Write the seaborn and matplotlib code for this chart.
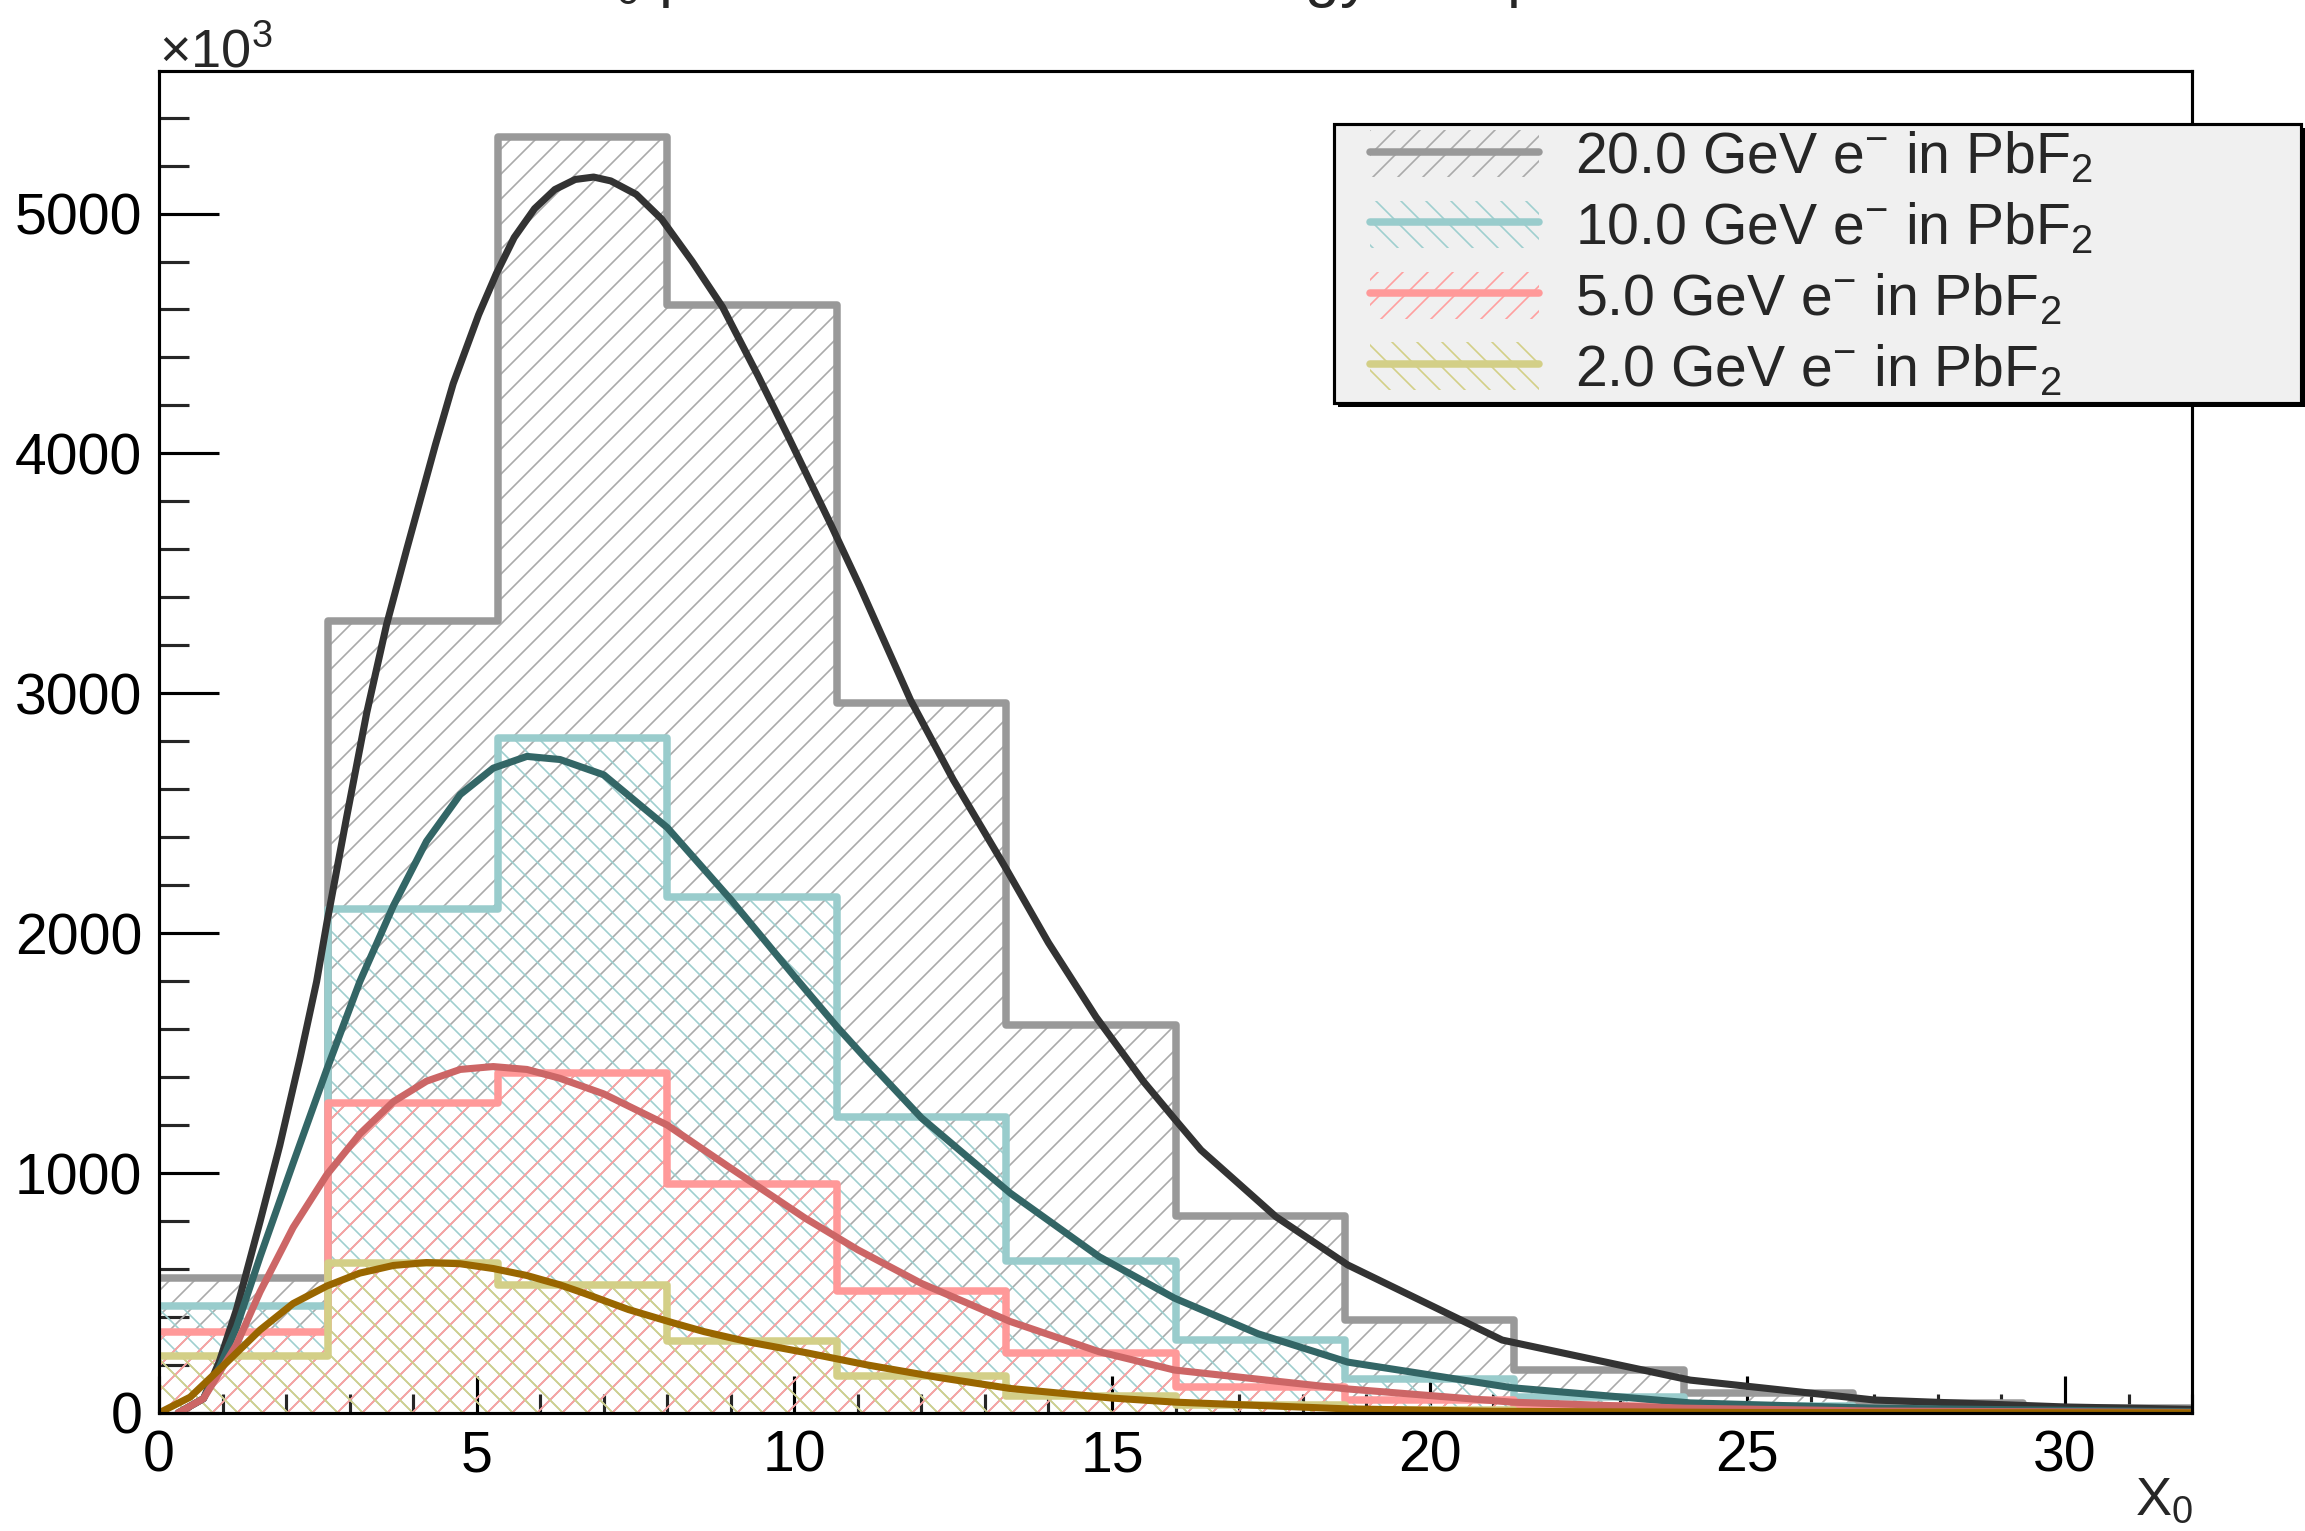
#X0 shower profile histograms with fitted curves, ROOT style look
import numpy as np
import pandas as pd
import matplotlib
matplotlib.use('Agg')
import matplotlib.pyplot as plt
import seaborn as sb
from matplotlib.patches import Patch, Rectangle
from matplotlib.lines import Line2D
from matplotlib.legend_handler import HandlerTuple
from matplotlib.ticker import MultipleLocator


#bin edges (in X0)
bin_edges = [0, 2.667, 5.333, 8, 10.667, 13.333, 16, 18.667, 21.333, 24, 26.667, 29.333, 32]

#histogram contents, in units of 10^3
h_20gev = [562, 3300, 5320, 4620, 2960, 1618, 820, 386, 180, 82, 42, 22]
h_10gev = [445, 2102, 2815, 2150, 1234, 634, 305, 140, 66, 30, 13, 6]
h_5gev = [337, 1291, 1418, 955, 508, 248, 110, 56, 28, 12, 5, 3]
h_2gev = [236, 626, 535, 302, 153, 70, 35, 12, 5, 2, 1, 0.5]

#fit curves
fit20_x = [0.3, 0.7, 0.95, 1.22, 1.59, 1.9, 2.22, 2.48, 2.64, 2.95, 3.27, 3.58, 3.9, 4.35, 4.63, 5.03, 5.31,
           5.59, 5.91, 6.23, 6.55, 6.84, 7.11, 7.51, 7.91, 8.39, 8.87, 9.43, 9.91, 10.55, 11.03, 11.83, 12.5,
           13.33, 14.0, 14.75, 15.5, 16.0, 16.4, 17.58, 18.71, 21.14, 24.1, 27.0, 30.0, 32.0]
fit20_y = [0, 60, 215, 432, 798, 1115, 1480, 1798, 2041, 2480, 2920, 3285, 3602, 4036, 4291, 4578, 4750,
           4900, 5020, 5100, 5142, 5152, 5136, 5080, 4977, 4801, 4610, 4323, 4067, 3717, 3446, 2971, 2640,
           2270, 1960, 1650, 1380, 1221, 1096, 818, 617, 304, 137, 54, 25, 15]

fit10_x = [0.3, 0.7, 0.95, 1.22, 1.59, 2.11, 2.64, 3.16, 3.69, 4.21, 4.74, 5.26, 5.79, 6.31, 7.0, 8.0, 9.0,
           10.0, 10.67, 11.15, 12.0, 13.4, 14.8, 15.98, 17.3, 18.71, 21.3, 24.1, 27.0, 32.0]
fit10_y = [0, 60, 190, 358, 651, 1041, 1432, 1798, 2115, 2383, 2578, 2688, 2737, 2724, 2660, 2440, 2140,
           1820, 1610, 1470, 1230, 916, 651, 479, 330, 212, 105, 42, 20, 5]

fit5_x = [0.3, 0.7, 1.22, 1.59, 2.11, 2.64, 3.16, 3.69, 4.21, 4.74, 5.26, 5.79, 6.31, 7.0, 8.0, 9.0, 10.17,
          11.0, 12.0, 13.4, 14.8, 15.98, 18.71, 21.3, 24.0, 27.0, 32.0]
fit5_y = [0, 60, 285, 505, 773, 993, 1163, 1298, 1383, 1432, 1444, 1432, 1395, 1330, 1200, 1020, 812,
          680, 540, 381, 255, 179, 100, 45, 20, 8, 2]

fit2_x = [0.0, 0.49, 1.07, 1.59, 2.11, 2.64, 3.16, 3.69, 4.21, 4.74, 5.26, 5.79, 6.31, 6.68, 7.39, 8.1, 8.58,
          9.3, 10.17, 11.15, 12.27, 13.4, 15.0, 16.0, 18.7, 21.0, 25.0, 32.0]
fit2_y = [0, 66, 212, 346, 456, 529, 583, 615, 627, 622, 602, 573, 534, 500, 431, 375, 339,
          295, 252, 200, 148, 102, 62, 45, 17, 7, 2, 0.5]

labels = [r'20.0 GeV e$^{-}$ in PbF$_{2}$', r'10.0 GeV e$^{-}$ in PbF$_{2}$',
          r'5.0 GeV e$^{-}$ in PbF$_{2}$', r'2.0 GeV e$^{-}$ in PbF$_{2}$']


#style
sb.set_theme(style='white')
plt.rcParams['font.family'] = ['Liberation Sans', 'DejaVu Sans']
plt.rcParams['mathtext.fontset'] = 'custom'
plt.rcParams['mathtext.rm'] = 'Liberation Sans'
plt.rcParams['mathtext.it'] = 'Liberation Sans:italic'
plt.rcParams['mathtext.bf'] = 'Liberation Sans:bold'
plt.rcParams['mathtext.default'] = 'regular'
plt.rcParams['hatch.linewidth'] = 0.8
plt.rcParams['axes.edgecolor'] = 'black'

hist_colors = ['#999999', '#99cccc', '#ff9999', '#d3cf87']
hatch_colors = ['#aaaaaa', '#9fcfcf', '#ff9f9f', '#d3cf87']
hatches = ['//', '\\\\', '//', '\\\\']
fit_colors = ['#333333', '#336666', '#cc6666', '#996600']

hists = [h_20gev, h_10gev, h_5gev, h_2gev]
fits = [(fit20_x, fit20_y), (fit10_x, fit10_y), (fit5_x, fit5_y), (fit2_x, fit2_y)]

W, H = 2305, 1531
fig = plt.figure(figsize=(W / 150, H / 150), dpi=150)
ax = fig.add_axes([0.069, 0.0771, 0.882, 0.8765])

edges = np.array(bin_edges)
centers = (edges[:-1] + edges[1:]) / 2

#hatched fill under every histogram
for vals, hc, hp in zip(hists, hatch_colors, hatches):
    ax.fill_between(edges, np.append(vals, vals[-1]), step='post', facecolor='none',
                    edgecolor=hc, hatch=hp, linewidth=0)

#histogram outlines
for vals, col in zip(hists, hist_colors):
    hist_df = pd.DataFrame({'x0': centers, 'count': vals})
    sb.histplot(data=hist_df, x='x0', weights='count', bins=bin_edges, element='step', fill=False,
                color=col, linewidth=3.6, ax=ax)

#fit curves
for (fx, fy), col in zip(fits, fit_colors):
    sb.lineplot(x=fx, y=fy, color=col, linewidth=3.4, estimator=None, sort=False, ax=ax)

ax.set_xlim(0, 32)
ax.set_ylim(0, 5594)
ax.set_xlabel('')
ax.set_ylabel('')

ax.xaxis.set_major_locator(MultipleLocator(5))
ax.xaxis.set_minor_locator(MultipleLocator(1))
ax.yaxis.set_major_locator(MultipleLocator(1000))
ax.yaxis.set_minor_locator(MultipleLocator(200))
ax.tick_params(axis='x', which='major', direction='in', length=18, width=1.5, labelsize=27.4,
               pad=8, bottom=True, top=False, colors='black')
ax.tick_params(axis='x', which='minor', direction='in', length=9, width=1.5, bottom=True, top=False)
ax.tick_params(axis='y', which='major', direction='in', length=29, width=1.5, labelsize=27.4,
               pad=8, left=True, right=False, colors='black')
ax.tick_params(axis='y', which='minor', direction='in', length=14.5, width=1.5, left=True, right=False)
for sp in ax.spines.values():
    sp.set_linewidth(1.5)
    sp.set_color('black')

#text around the frame (title is cut by the top edge, as in the original)
fig.text(573 / W, 1.003, r'X$_{0}$ profile for different energy samples', fontsize=30,
         ha='left', va='baseline')
fig.text(159 / W, 1 - 67 / H, r'×10$^{3}$', fontsize=26, ha='left', va='baseline')
fig.text(2193 / W, 16 / H, r'X$_{0}$', fontsize=26, ha='right', va='baseline')

#legend box (ROOT style, with a small shadow)
box_x0, box_y0, box_x1, box_y1 = 1334, 124, 2301, 403
fig.patches.append(Rectangle(((box_x0 + 4) / W, 1 - (box_y1 + 4) / H), (box_x1 - box_x0) / W,
                             (box_y1 - box_y0) / H, transform=fig.transFigure,
                             facecolor='black', edgecolor='none', zorder=1))
fig.patches.append(Rectangle((box_x0 / W, 1 - box_y1 / H), (box_x1 - box_x0) / W,
                             (box_y1 - box_y0) / H, transform=fig.transFigure,
                             facecolor='#f0f0f0', edgecolor='black', linewidth=1.5, zorder=1.1))

#legend entries with hatched boxes and lines
handles = []
for hc, hp, col in zip(hatch_colors, hatches, hist_colors):
    swatch = Patch(facecolor='none', edgecolor=hc, hatch=hp, linewidth=0)
    line = Line2D([], [], color=col, linewidth=3.6)
    handles.append((swatch, line))

leg = fig.legend(handles, labels, handler_map={tuple: HandlerTuple(ndivide=1)},
                 loc='upper left', bbox_to_anchor=(1370 / W, 1 - 130 / H),
                 borderaxespad=0, borderpad=0, frameon=False,
                 fontsize=27.4, handlelength=2.96, handleheight=0.9, handletextpad=0.63,
                 labelspacing=0.27)
leg.set_zorder(5)

fig.savefig('out.png', dpi=150)
